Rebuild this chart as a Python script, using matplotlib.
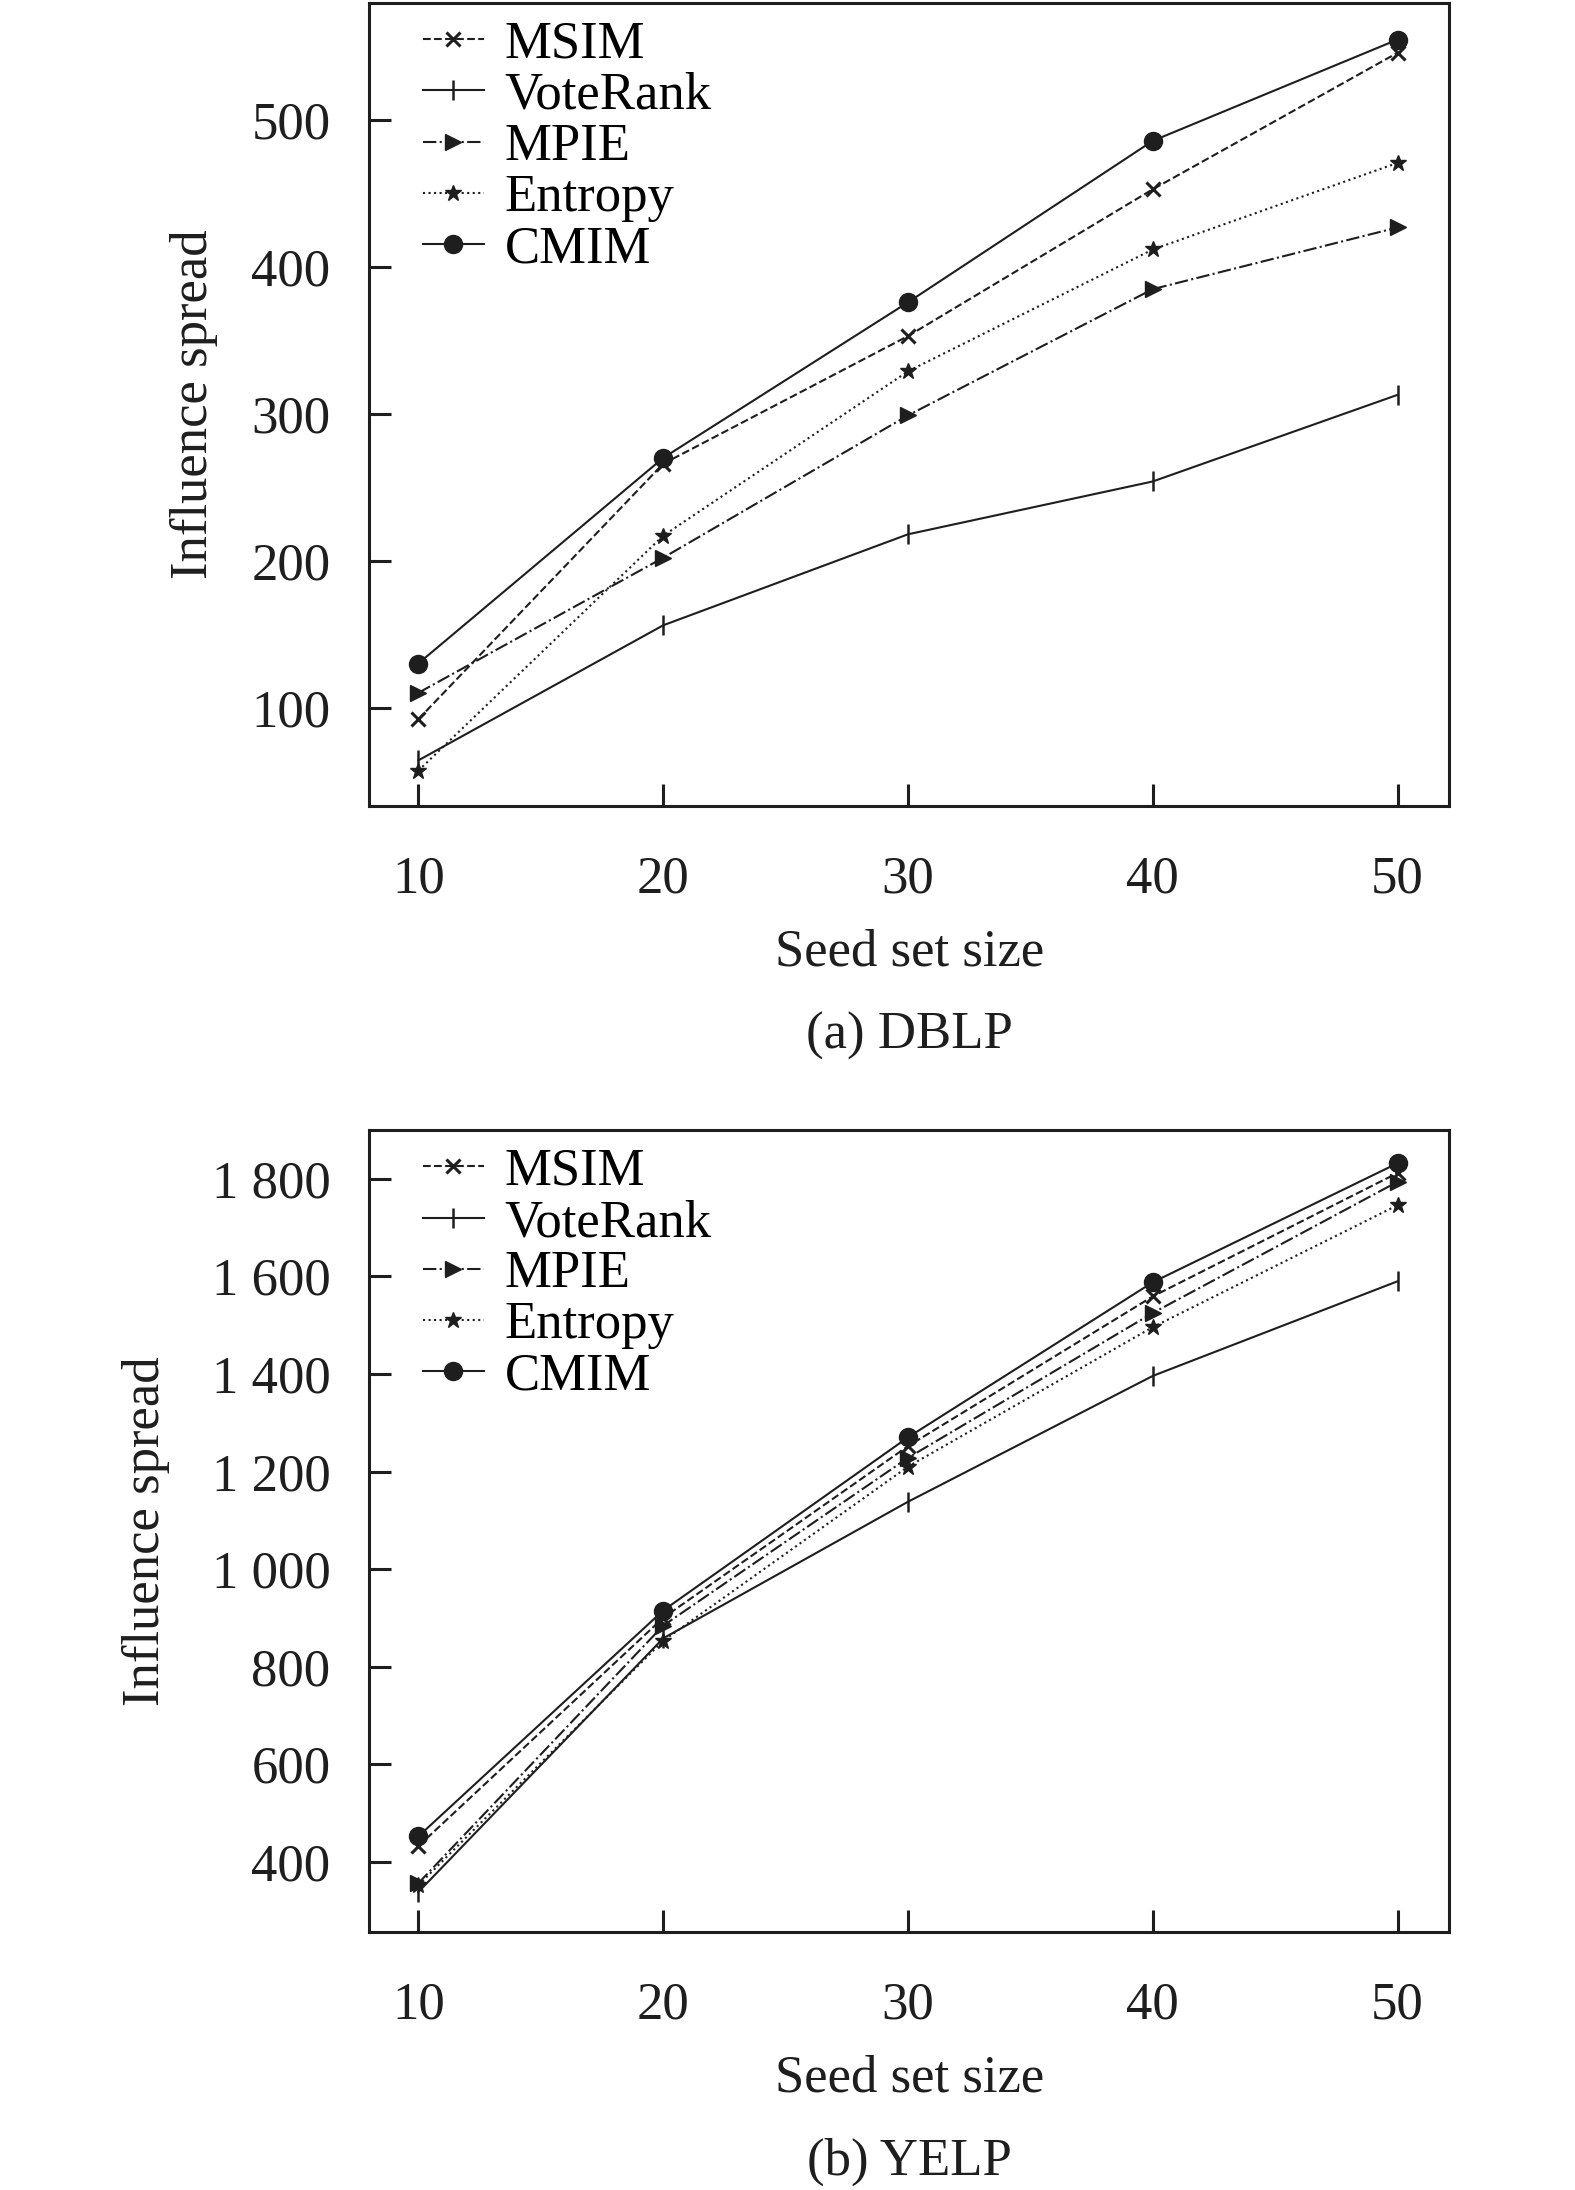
import matplotlib.pyplot as plt

plt.rcParams['font.family'] = ['Liberation Serif', 'DejaVu Serif']

seed_sizes = [10, 20, 30, 40, 50]

# (a) DBLP
dblp_msim = [92, 266, 353, 453, 546]
dblp_voterank = [64, 156, 218, 254, 313]
dblp_mpie = [110, 202, 299, 385, 427]
dblp_entropy = [57, 217, 329, 412, 471]
dblp_cmim = [130, 270, 376, 486, 555]
dblp_yticks = [100, 200, 300, 400, 500]
dblp_yticklabels = ['100', '200', '300', '400', '500']

# (b) YELP
yelp_msim = [432, 900, 1252, 1559, 1812]
yelp_voterank = [338, 858, 1138, 1396, 1590]
yelp_mpie = [356, 884, 1228, 1525, 1794]
yelp_entropy = [352, 853, 1210, 1496, 1746]
yelp_cmim = [452, 915, 1270, 1588, 1832]
yelp_yticks = [400, 600, 800, 1000, 1200, 1400, 1600, 1800]
yelp_yticklabels = ['400', '600', '800', '1 000', '1 200', '1 400', '1 600', '1 800']

method_names = ['MSIM', 'VoteRank', 'MPIE', 'Entropy', 'CMIM']
styles = {
    'MSIM': dict(ls='--', marker='x', ms=10, mew=2.2),
    'VoteRank': dict(ls='-', marker='|', ms=14, mew=1.8),
    'MPIE': dict(ls='-.', marker='>', ms=12, mew=1),
    'Entropy': dict(ls=':', marker='*', ms=12, mew=1),
    'CMIM': dict(ls='-', marker='o', ms=13, mew=1),
}
ink = '#1e1e1e'
fs = 38


def draw_panel(ax, series, yticks, yticklabels, ylim, caption, ylabelpad):
    for name, vals in zip(method_names, series):
        st = styles[name]
        ax.plot(seed_sizes, vals, color=ink, lw=1.5, ls=st['ls'], marker=st['marker'],
                ms=st['ms'], mew=st['mew'], mfc=ink, mec=ink, label=name)
    ax.set_xlim(8.0, 52.1)
    ax.set_ylim(*ylim)
    ax.set_xticks(seed_sizes)
    ax.set_yticks(yticks)
    ax.set_yticklabels(yticklabels)
    ax.tick_params(direction='in', length=16, width=2.2, color=ink, labelsize=fs,
                   labelcolor=ink, top=False, right=False)
    ax.tick_params(axis='x', pad=36)
    ax.tick_params(axis='y', pad=28)
    for sp in ax.spines.values():
        sp.set_linewidth(2.2)
        sp.set_color(ink)
    ax.set_ylabel('Influence spread', fontsize=fs, color=ink, labelpad=ylabelpad)
    ax.set_xlabel('Seed set size', fontsize=fs, color=ink, labelpad=18)
    ax.legend(loc='upper left', frameon=False, fontsize=fs, handlelength=1.15,
              handletextpad=0.4, labelspacing=0.06, borderaxespad=0.0,
              bbox_to_anchor=(0.03, 1.004))
    ax.text(0.5, -0.287, caption, transform=ax.transAxes, ha='center', va='center',
            fontsize=fs, color=ink)


fig = plt.figure(figsize=(15.75, 21.9), dpi=100)
ax1 = fig.add_axes([0.2345, 0.632, 0.6855, 0.3667])
ax2 = fig.add_axes([0.2345, 0.118, 0.6855, 0.366])

draw_panel(ax1, [dblp_msim, dblp_voterank, dblp_mpie, dblp_entropy, dblp_cmim],
           dblp_yticks, dblp_yticklabels, (33, 580), '(a) DBLP', 24)
draw_panel(ax2, [yelp_msim, yelp_voterank, yelp_mpie, yelp_entropy, yelp_cmim],
           yelp_yticks, yelp_yticklabels, (257, 1900), '(b) YELP', 30)

fig.savefig('out.png', dpi=100, facecolor='white')
